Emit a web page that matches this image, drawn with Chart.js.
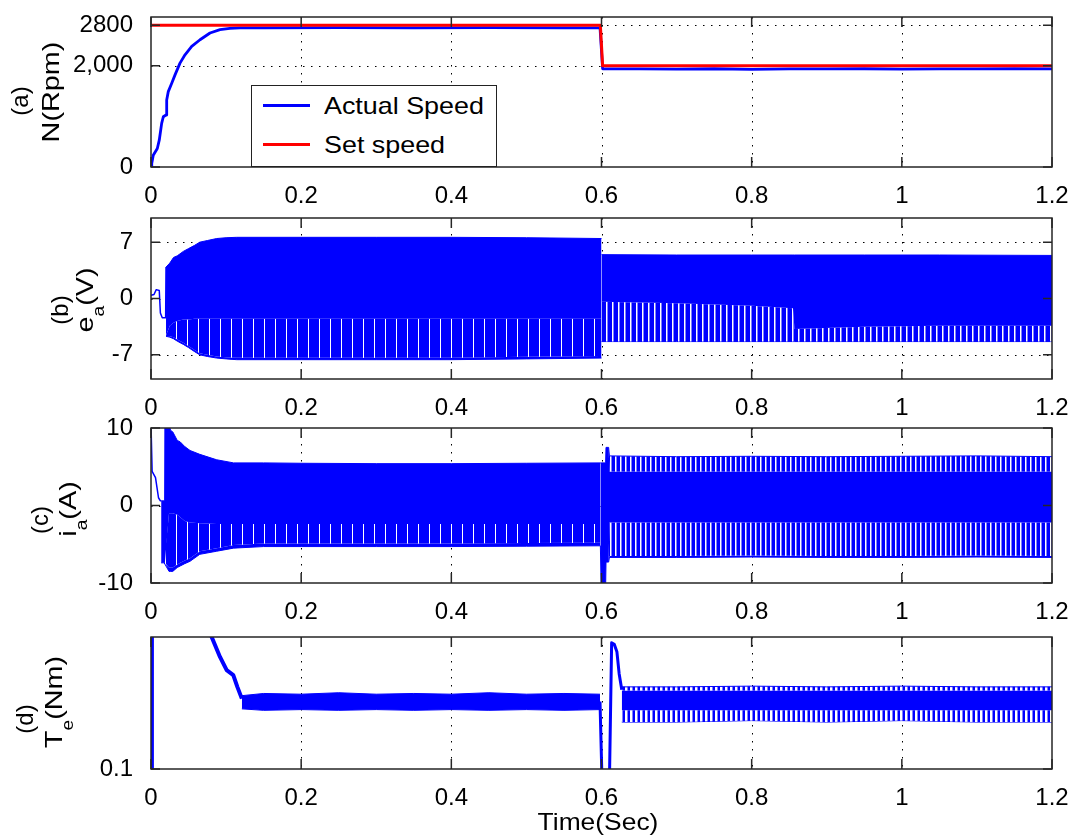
<!DOCTYPE html>
<html><head><meta charset="utf-8">
<script src="https://cdn.jsdelivr.net/npm/chart.js"></script>
<style>
html,body{margin:0;padding:0;background:#fff;}
#wrap{position:relative;width:1076px;height:838px;overflow:hidden;font-family:"Liberation Sans",Arial,Helvetica,sans-serif;color:#000;background:#fff;}
canvas{position:absolute;left:0;}
.yl{position:absolute;white-space:nowrap;font-size:24px;line-height:30px;transform:translate(-50%,-50%) rotate(-90deg) scaleX(1.2);}
.yp{position:absolute;white-space:nowrap;font-size:24px;line-height:30px;transform:translate(-50%,-50%) rotate(-90deg);}
.sb{font-size:16px;position:relative;top:11px;}
#legend{position:absolute;left:251px;top:85px;width:246px;height:82px;border:1.5px solid #222;background:#fff;box-sizing:border-box;}
.lgl{position:absolute;height:3px;width:47px;left:11px;}
.lgt{position:absolute;left:72px;font-size:24px;line-height:28px;white-space:nowrap;transform:scaleX(1.12);transform-origin:left center;}
#xt{position:absolute;left:598px;top:810px;font-size:24px;line-height:24px;white-space:nowrap;transform:translateX(-50%) scaleX(1.1);}
</style></head>
<body><div id="wrap">
<canvas id="cA"></canvas><canvas id="cB"></canvas><canvas id="cC"></canvas><canvas id="cD"></canvas>
<div id="legend">
  <div class="lgl" style="top:18px;background:#0000ff"></div><div class="lgt" style="top:6px">Actual Speed</div>
  <div class="lgl" style="top:57px;background:#ff0000"></div><div class="lgt" style="top:45px">Set speed</div>
</div>
<div class="yp" style="left:20px;top:101px">(a)</div>
<div class="yl" style="left:51px;top:92px">N(Rpm)</div>
<div class="yp" style="left:60px;top:310px">(b)</div>
<div class="yl" style="left:86px;top:300px">e<span class="sb">a</span>(V)</div>
<div class="yp" style="left:40px;top:520px">(c)</div>
<div class="yl" style="left:69px;top:509px">i<span class="sb">a</span>(A)</div>
<div class="yp" style="left:25px;top:719px">(d)</div>
<div class="yl" style="left:55px;top:702px">T<span class="sb">e</span>(Nm)</div>
<div id="xt">Time(Sec)</div>
</div>
<script>
// ---------- tick values / labels ----------
const xTicks = [0, 0.2, 0.4, 0.6, 0.8, 1, 1.2];
const xTickLabels = ['0', '0.2', '0.4', '0.6', '0.8', '1', '1.2'];
const xGrid = [0.2, 0.4, 0.6, 0.8, 1.0];
const yTicksA = [0, 2000, 2800];   const yLabelsA = ['0', '2,000', '2800'];   const yGridA = [2000, 2800];
const yTicksB = [-7, 0, 7];        const yLabelsB = ['-7', '0', '7'];         const yGridB = [-7, 0, 7];
const yTicksC = [-10, 0, 10];      const yLabelsC = ['-10', '0', '10'];       const yGridC = [0];
const yTicksD = [0.1];             const yLabelsD = ['0.1'];                  const yGridD = [];

// ---------- (a) speed ----------
const tSet = [0, 0.5985, 0.6015, 1.2];
const nSet = [2800, 2800, 2000, 2000];
const tAct = [0, 0.001, 0.003, 0.0084, 0.011, 0.0142, 0.0164, 0.020, 0.0209, 0.023, 0.0276, 0.032, 0.0386, 0.0453, 0.0542, 0.0653, 0.0786, 0.0919, 0.105, 0.1185, 0.15, 0.25, 0.35, 0.45, 0.55, 0.598, 0.6015, 0.65, 0.7, 0.75, 0.8, 0.85, 0.9, 0.95, 1.0, 1.05, 1.1, 1.15, 1.2];
const nAct = [0, 67, 232, 365, 530, 862, 993, 1027, 1325, 1490, 1656, 1821, 2053, 2218, 2383, 2516, 2649, 2714, 2740, 2750, 2752, 2755, 2752, 2755, 2752, 2752, 1942, 1940, 1935, 1942, 1930, 1940, 1938, 1942, 1936, 1940, 1938, 1942, 1938];

// ---------- (b) e_a ----------
const tB0 = [0, 0.004, 0.007, 0.011, 0.0125, 0.015, 0.0195, 0.0200];
const vB0 = [0.4, 0.5, 1.1, 1.0, -1.8, -2.4, -2.4, 3.9];
const tB1 = [0.020, 0.025, 0.030, 0.035, 0.043, 0.050, 0.058, 0.065, 0.075, 0.0875, 0.100, 0.114, 0.200, 0.300, 0.400, 0.500, 0.600];
const topB1 = [3.9, 4.4, 5.1, 5.3, 5.85, 6.2, 6.6, 7.0, 7.2, 7.45, 7.55, 7.6, 7.6, 7.6, 7.6, 7.55, 7.45];
const combB1 = [-4.6, -3.4, -3.0, -2.8, -2.6, -2.6, -2.5, -2.5, -2.5, -2.5, -2.5, -2.5, -2.5, -2.5, -2.5, -2.5, -2.5];
const combEndB1 = [-4.7, -4.7, -4.8, -5.1, -5.5, -5.9, -6.4, -6.8, -7.0, -7.2, -7.3, -7.35, -7.35, -7.35, -7.35, -7.25, -7.15];
const botB1 = [-4.7, -4.8, -5.0, -5.3, -5.7, -6.1, -6.6, -7.0, -7.2, -7.4, -7.5, -7.6, -7.6, -7.6, -7.6, -7.5, -7.4];
const tB2 = [0.600, 0.700, 0.800, 0.855, 0.857, 0.950, 1.050, 1.200];
const topB2 = [5.45, 5.4, 5.4, 5.4, 5.4, 5.4, 5.4, 5.35];
const combB2 = [-0.4, -0.6, -0.9, -1.2, -3.8, -3.5, -3.4, -3.4];
const botB2 = [-5.35, -5.35, -5.35, -5.35, -5.35, -5.35, -5.35, -5.35];

// ---------- (c) i_a ----------
const tC0 = [0, 0.0015, 0.006, 0.010, 0.0125, 0.0135];
const vC0 = [10.5, 4.4, 3.6, 1.0, 0.6, 0.6];
const tC1 = [0.0135, 0.0175, 0.0185, 0.024, 0.026, 0.029, 0.035, 0.039, 0.045, 0.052, 0.065, 0.0875, 0.110, 0.150, 0.200, 0.300, 0.400, 0.500, 0.5985];
const topC1 = [0.6, 0.6, 10.5, 10.5, 9.7, 9.5, 8.4, 8.2, 7.6, 7.1, 6.6, 5.9, 5.5, 5.5, 5.45, 5.4, 5.4, 5.45, 5.5];
const combC1 = [-7.4, -7.4, -7.4, -1.0, -1.0, -1.0, -1.2, -1.5, -2.0, -2.2, -2.3, -2.4, -2.4, -2.4, -2.4, -2.4, -2.4, -2.4, -2.4];
const combEndC1 = [-7.4, -7.4, -7.4, -8.0, -8.0, -8.0, -7.6, -7.4, -7.1, -6.8, -5.9, -5.5, -5.1, -4.9, -4.9, -4.9, -4.9, -4.85, -4.8];
const botC1 = [-7.4, -7.4, -7.4, -8.5, -8.5, -8.5, -8.0, -7.8, -7.5, -7.2, -6.3, -5.9, -5.5, -5.3, -5.3, -5.3, -5.3, -5.25, -5.2];
const tC2 = [0.5985, 0.5995, 0.6055, 0.6060, 0.6095, 0.6105, 0.700, 0.800, 0.900, 1.000, 1.100, 1.200];
const topC2 = [5.5, 5.5, 5.5, 7.5, 7.5, 6.4, 6.3, 6.35, 6.3, 6.35, 6.4, 6.3];
const comb1C2 = [5.5, 5.5, 5.5, 7.5, 7.5, 4.4, 4.4, 4.4, 4.4, 4.4, 4.4, 4.4];
const comb2C2 = [-5.2, -10.5, -10.5, -7.3, -7.3, -2.2, -2.2, -2.2, -2.2, -2.2, -2.2, -2.2];
const comb3C2 = [-5.2, -10.5, -10.5, -7.3, -7.3, -6.5, -6.5, -6.45, -6.5, -6.5, -6.45, -6.5];
const botC2 = [-5.2, -10.5, -10.5, -7.3, -7.3, -6.7, -6.7, -6.65, -6.7, -6.7, -6.65, -6.7];

// ---------- (d) T_e ----------
const tD0 = [0, 0.0012, 0.0025, 0.079, 0.0808, 0.0919, 0.1008, 0.1096, 0.115, 0.121];
const vD0 = [0.05, 1.2, 1.2, 1.1, 1.0, 0.864, 0.774, 0.74, 0.66, 0.58];
const tD1 = [0.121, 0.150, 0.200, 0.250, 0.300, 0.350, 0.400, 0.450, 0.500, 0.550, 0.598];
const topD1 = [0.60, 0.615, 0.61, 0.62, 0.61, 0.615, 0.61, 0.62, 0.61, 0.615, 0.61];
const botD1 = [0.51, 0.50, 0.505, 0.50, 0.505, 0.50, 0.505, 0.50, 0.505, 0.50, 0.505];
const tD2 = [0.598, 0.6008, 0.6105, 0.6135, 0.617, 0.6205, 0.6235, 0.627];
const vD2 = [0.56, 0.0, 0.0, 0.96, 0.95, 0.90, 0.75, 0.64];
const tD3 = [0.627, 0.700, 0.800, 0.900, 1.000, 1.100, 1.200];
const topD3 = [0.66, 0.66, 0.665, 0.66, 0.665, 0.66, 0.66];
const comb1D3 = [0.635, 0.635, 0.635, 0.635, 0.635, 0.635, 0.635];
const comb2D3 = [0.50, 0.50, 0.50, 0.50, 0.50, 0.50, 0.50];
const botD3 = [0.42, 0.42, 0.43, 0.42, 0.43, 0.42, 0.42];

// ---------- styles ----------
const BLUE = '#0000ff', RED = '#ff0000', FONT = '"Liberation Sans", Arial, Helvetica, sans-serif';
const CLEAR = 'rgba(0,0,0,0)';
function stripes(period, white) {
  const c = document.createElement('canvas'); c.width = period; c.height = 4;
  const g = c.getContext('2d');
  g.fillStyle = BLUE; g.fillRect(0, 0, period, 4);
  g.fillStyle = '#ffffff'; g.fillRect(0, 0, white, 4);
  return g.createPattern(c, 'repeat');
}
const patSparse = stripes(11, 1);
const patB = stripes(6, 1.5);
const patC = stripes(5, 1.5);
const patD = stripes(5, 2.5);

const pts = (t, v) => t.map((x, i) => ({x: x, y: v[i]}));
function line(t, v, color, w) {
  return {data: pts(t, v), borderColor: color, borderWidth: w, fill: false, pointRadius: 0, clip: 0, borderJoinStyle: 'round'};
}
function band(t, top, c1, c2, c3, bot, pat) {
  const base = {pointRadius: 0, clip: 0, borderWidth: 1};
  return [
    Object.assign({data: pts(t, top), borderColor: BLUE, fill: '+1', backgroundColor: pat}, base),
    Object.assign({data: pts(t, c1), borderColor: CLEAR, fill: '+1', backgroundColor: BLUE}, base),
    Object.assign({data: pts(t, c2), borderColor: CLEAR, fill: '+1', backgroundColor: pat}, base),
    Object.assign({data: pts(t, c3), borderColor: CLEAR, fill: '+1', backgroundColor: BLUE}, base),
    Object.assign({data: pts(t, bot), borderColor: BLUE, fill: false}, base)
  ];
}

const framePlugin = {
  id: 'matlabFrame',
  beforeDatasetsDraw(chart, args, o) {
    const {ctx, chartArea: a, scales: {x, y}} = chart;
    ctx.save();
    ctx.strokeStyle = '#000'; ctx.lineWidth = 1; ctx.setLineDash([1.5, 6.5]);
    ctx.beginPath();
    o.xGrid.forEach(v => { const p = Math.round(x.getPixelForValue(v)) + 0.5; ctx.moveTo(p, a.top); ctx.lineTo(p, a.bottom); });
    o.yGrid.forEach(v => { const p = Math.round(y.getPixelForValue(v)) + 0.5; ctx.moveTo(a.left, p); ctx.lineTo(a.right, p); });
    ctx.stroke();
    ctx.restore();
  },
  afterDatasetsDraw(chart, args, o) {
    const {ctx, chartArea: a, scales: {x, y}} = chart;
    ctx.save();
    ctx.strokeStyle = '#262626'; ctx.lineWidth = 1.5; ctx.setLineDash([]);
    ctx.beginPath();
    xTicks.forEach(v => { const p = x.getPixelForValue(v); ctx.moveTo(p, a.bottom); ctx.lineTo(p, a.bottom - 10); ctx.moveTo(p, a.top); ctx.lineTo(p, a.top + 10); });
    o.yTicks.forEach(v => { const p = y.getPixelForValue(v); ctx.moveTo(a.left, p); ctx.lineTo(a.left + 9, p); ctx.moveTo(a.right, p); ctx.lineTo(a.right - 9, p); });
    ctx.stroke();
    ctx.strokeRect(a.left, a.top, a.right - a.left, a.bottom - a.top);
    ctx.restore();
  }
};

function panel(id, top, bottom, yMin, yMax, yT, yL, yG, datasets) {
  const cv = document.getElementById(id);
  const h = bottom - top + 50;
  cv.width = 1076; cv.height = h;
  cv.style.width = '1076px'; cv.style.height = h + 'px'; cv.style.top = (top - 10) + 'px';
  return new Chart(cv, {
    type: 'line',
    data: {datasets: datasets},
    options: {
      responsive: false, animation: false, events: [], devicePixelRatio: 1,
      layout: {padding: {left: 0, right: 24, top: 10, bottom: 0}},
      plugins: {legend: {display: false}, tooltip: {enabled: false},
        matlabFrame: {xGrid: xGrid, yGrid: yG, yTicks: yT}},
      elements: {point: {radius: 0}, line: {tension: 0}},
      scales: {
        x: {type: 'linear', min: 0, max: 1.2,
          grid: {display: false}, border: {display: false},
          afterBuildTicks: s => { s.ticks = xTicks.map(v => ({value: v})); },
          afterFit: s => { s.height = 40; s.paddingLeft = 0; s.paddingRight = 0; },
          ticks: {font: {family: FONT, size: 24}, color: '#000', padding: 7, maxRotation: 0, autoSkip: false,
            callback: (v, i) => xTickLabels[i]}},
        y: {type: 'linear', min: yMin, max: yMax,
          grid: {display: false}, border: {display: false},
          afterBuildTicks: s => { s.ticks = yT.map(v => ({value: v})); },
          afterFit: s => { s.width = 151; s.paddingTop = 0; s.paddingBottom = 0; },
          ticks: {font: {family: FONT, size: 24}, color: '#000', padding: 10, autoSkip: false,
            callback: (v, i) => yL[i]}}
      }
    },
    plugins: [framePlugin]
  });
}

panel('cA', 17, 167, 0, 2965, yTicksA, yLabelsA, yGridA, [
  line(tSet, nSet, RED, 3),
  line(tAct, nAct, BLUE, 2.8)
]);
panel('cB', 218, 379, -10, 10, yTicksB, yLabelsB, yGridB, [
  line(tB0, vB0, BLUE, 1.5),
  ...band(tB1, topB1, topB1, combB1, combEndB1, botB1, patSparse),
  ...band(tB2, topB2, topB2, combB2, botB2, botB2, patB)
]);
panel('cC', 428, 583, -10, 10, yTicksC, yLabelsC, yGridC, [
  line(tC0, vC0, BLUE, 1.5),
  ...band(tC1, topC1, topC1, combC1, combEndC1, botC1, patSparse),
  ...band(tC2, topC2, comb1C2, comb2C2, comb3C2, botC2, patC)
]);
panel('cD', 637, 769, 0.1, 1.0, yTicksD, yLabelsD, yGridD, [
  line(tD0, vD0, BLUE, 4),
  ...band(tD1, topD1, topD1, botD1, botD1, botD1, patD),
  line(tD2, vD2, BLUE, 3),
  ...band(tD3, topD3, comb1D3, comb2D3, botD3, botD3, patD)
]);
</script>
</body></html>
